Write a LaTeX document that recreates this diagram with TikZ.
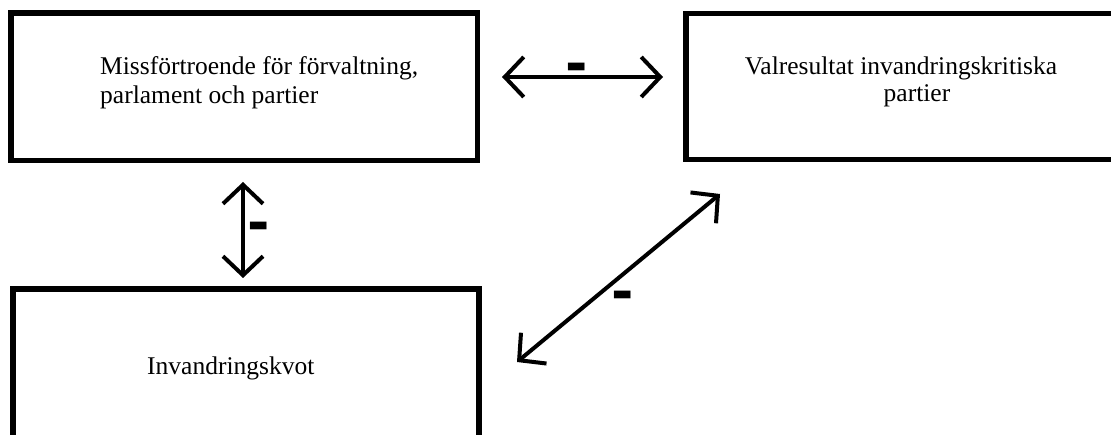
\documentclass[tikz,border=0pt]{standalone}
\usepackage{fontspec}
\setmainfont{Liberation Serif}
\newfontfamily\dashfont{DejaVu Sans}
\usetikzlibrary{arrows.meta}
\begin{document}
\begin{tikzpicture}[x=1pt,y=-1pt,
  box/.style={draw, line width=5.5pt, inner sep=0pt, outer sep=0pt, anchor=north west},
  lbl/.style={inner sep=0pt, font=\fontsize{25.5}{31}\selectfont},
  sign/.style={inner sep=0pt, font=\dashfont\bfseries\fontsize{54}{54}\selectfont},
  conn/.style={line width=4pt, {Straight Barb[length=19pt,width=40pt]}-{Straight Barb[length=19pt,width=40pt]}}
]
\useasboundingbox (0,0) rectangle (1111,435);
\clip (0,0) rectangle (1111,435);
% boxes
\node[box, minimum width=466.5pt, minimum height=147.5pt] (b1) at (11,13) {};
\node[box, minimum width=439pt, minimum height=146pt] (b2) at (686,13.5) {};
\node[box, minimum width=466pt, minimum height=161pt] (b3) at (13,289) {};
% texts
\node[lbl, anchor=base west] (t1a) at (100,75) {Missförtroende för förvaltning,};
\node[lbl, anchor=base west] (t1b) at (100,104) {parlament och partier};
\node[lbl, anchor=base] (t2a) at (901,75) {Valresultat invandringskritiska};
\node[lbl, anchor=base] (t2b) at (917,102) {partier};
\node[lbl, anchor=base west] (t3) at (147,374) {Invandringskvot};
% connector end points
\coordinate (h1) at (502,77);
\coordinate (h2) at (663,77);
\coordinate (v1) at (243,182);
\coordinate (v2) at (243,278);
\coordinate (d1) at (517,362);
\coordinate (d2) at (720,194);
\draw[conn] (h1) -- (h2);
\draw[conn] (v1) -- (v2);
\draw[conn] (d1) -- (d2);
% signs
\node[sign] (m1) at (577,73) {-};
\node[sign] (m2) at (259,232) {-};
\node[sign] (m3) at (623,301) {-};
\end{tikzpicture}
\end{document}
